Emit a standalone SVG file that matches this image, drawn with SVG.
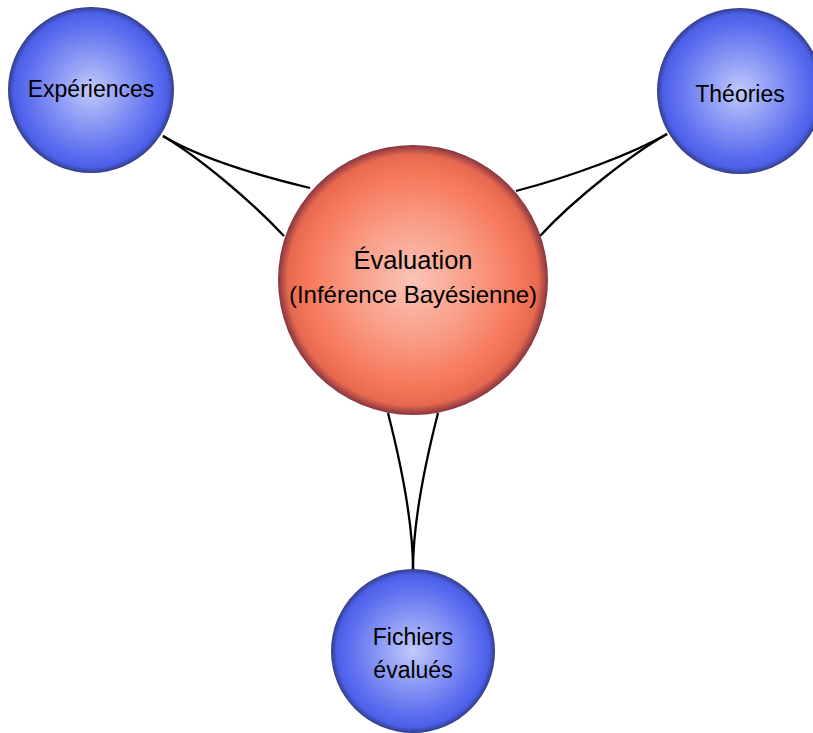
<svg xmlns="http://www.w3.org/2000/svg" width="813" height="733" viewBox="0 0 813 733">
  <defs>
    <radialGradient id="gBlue" cx="50%" cy="50%" r="50%">
      <stop offset="0%" stop-color="#c2c9fb"/>
      <stop offset="45%" stop-color="#8695f4"/>
      <stop offset="80%" stop-color="#5a6cef"/>
      <stop offset="93%" stop-color="#4c5fe8"/>
      <stop offset="100%" stop-color="#333d86"/>
    </radialGradient>
    <radialGradient id="gRed" cx="50%" cy="50%" r="50%">
      <stop offset="0%" stop-color="#fbc4b8"/>
      <stop offset="45%" stop-color="#f99c85"/>
      <stop offset="80%" stop-color="#f67658"/>
      <stop offset="93%" stop-color="#e6684f"/>
      <stop offset="100%" stop-color="#86343f"/>
    </radialGradient>
  </defs>
  <style>
    .blue { fill: url(#gBlue); }
    .red { fill: url(#gRed); }
    .lbl { font-family: "Liberation Sans", Arial, sans-serif; fill: #000; text-anchor: middle; }
    .sm { font-size: 23px; }
    .lg { font-size: 24px; }
    .xl { font-size: 25.5px; }
    .conn path { fill: none; stroke: #000; stroke-width: 2.3; }
  </style>
  <rect width="813" height="733" fill="#fff"/>
  <g id="connectors" class="conn">
    <path d="M163,136 C203,160 260,176 310,188"/>
    <path d="M163,136 C200,158 250,200 284,236"/>
    <path d="M667,134 C632,154 570,177 516,191"/>
    <path d="M667,134 C632,154 575,198 540,236"/>
    <path d="M413,570 C413,520 400,460 388,413"/>
    <path d="M413,570 C413,520 426,460 438,413"/>
  </g>
  <g id="evaluation">
    <circle class="red" cx="413" cy="280" r="135"/>
    <text class="lbl xl" x="413" y="269">Évaluation</text>
    <text class="lbl lg" x="413" y="303">(Inférence Bayésienne)</text>
  </g>
  <g id="experiences">
    <circle class="blue" cx="91" cy="90" r="83"/>
    <text class="lbl sm" x="91" y="97">Expériences</text>
  </g>
  <g id="theories">
    <circle class="blue" cx="740" cy="91" r="83"/>
    <text class="lbl sm" x="740" y="102">Théories</text>
  </g>
  <g id="fichiers">
    <circle class="blue" cx="413" cy="651" r="82"/>
    <text class="lbl sm" x="413" y="645">Fichiers</text>
    <text class="lbl sm" x="413" y="678">évalués</text>
  </g>
</svg>
